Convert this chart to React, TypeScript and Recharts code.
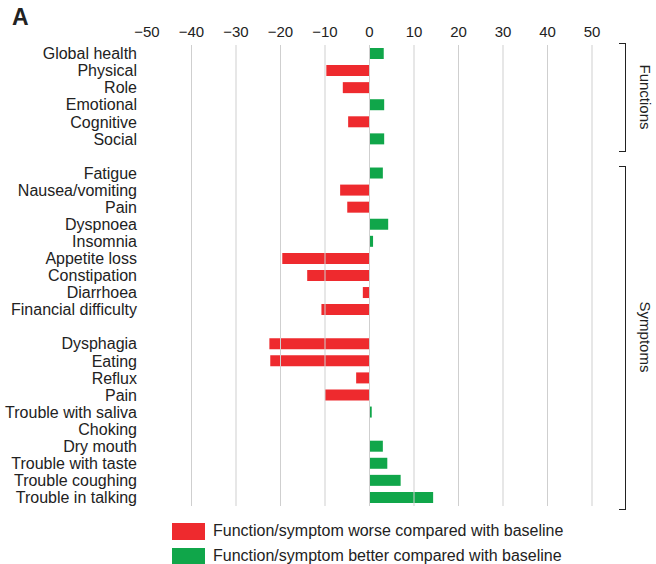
import { BarChart, Bar, XAxis, YAxis, Cell, ReferenceLine } from "recharts";

const labels = [
  "Global health", "Physical", "Role", "Emotional", "Cognitive", "Social", "",
  "Fatigue", "Nausea/vomiting", "Pain", "Dyspnoea", "Insomnia", "Appetite loss",
  "Constipation", "Diarrhoea", "Financial difficulty", "",
  "Dysphagia", "Eating", "Reflux", "Pain", "Trouble with saliva", "Choking",
  "Dry mouth", "Trouble with taste", "Trouble coughing", "Trouble in talking",
];
const values = [
  3.2, -9.7, -6, 3.3, -4.8, 3.3, 0,
  3, -6.6, -5, 4.2, 0.8, -19.6, -14, -1.5, -10.8, 0,
  -22.5, -22.3, -3, -10, 0.5, -0.1, 3, 4, 7, 14.3,
];
const ticks = [-50, -40, -30, -20, -10, 0, 10, 20, 30, 40, 50];
const gridLines = [-40, -30, -20, -10, 0, 10, 20, 30, 40, 50];

const rows = labels.map((label, i) => ({ id: `r${i}`, label, value: values[i] }));
const RED = "#ee2a2e";
const GREEN = "#10a64a";
const font = "'Liberation Sans', Arial, sans-serif";

function Bracket({ top, bottom, text }: { top: number; bottom: number; text: string }) {
  return (
    <>
      <div style={{ position: "absolute", left: 619, top, width: 6, height: bottom - top,
        borderTop: "1px solid #222", borderBottom: "1px solid #222", borderRight: "1px solid #222" }} />
      <div style={{ position: "absolute", left: 645, top: (top + bottom) / 2, fontSize: 15,
        transform: "translate(-50%, -50%) rotate(90deg)", whiteSpace: "nowrap", color: "#222" }}>{text}</div>
    </>
  );
}

export default function App() {
  return (
    <div style={{ position: "absolute", left: 0, top: 0, width: 656, height: 564, overflow: "hidden", fontFamily: font, background: "#fff", color: "#222" }}>
      <div style={{ position: "absolute", left: 12, top: 4, fontSize: 23, fontWeight: "bold" }}>A</div>
      <BarChart width={656} height={512} data={rows} layout="vertical"
        margin={{ top: 25, right: 64, left: 7, bottom: 6 }} barCategoryGap={3}>
        {gridLines.map((g) => (
          <ReferenceLine key={g} x={g} stroke="#cfcfcf" strokeWidth={1} />
        ))}
        <XAxis type="number" orientation="top" domain={[-50, 50]} ticks={ticks} height={20}
          axisLine={false} tickLine={false} tickMargin={2} interval={0}
          tick={{ fontSize: 15, fill: "#222", fontFamily: font }}
          tickFormatter={(v: number) => (v < 0 ? `\u2212${-v}` : `${v}`)} />
        <YAxis type="category" dataKey="id" width={140} axisLine={false} tickLine={false}
          tickMargin={4} interval={0} tick={{ fontSize: 16, fill: "#222", fontFamily: font }}
          tickFormatter={(id: string) => rows.find((r) => r.id === id)?.label ?? ""} />
        <Bar dataKey="value" isAnimationActive={false} barSize={11}>
          {rows.map((r) => (
            <Cell key={r.id} fill={r.value < 0 ? RED : GREEN} />
          ))}
        </Bar>
      </BarChart>
      <Bracket top={43} bottom={150} text="Functions" />
      <Bracket top={166} bottom={508} text="Symptoms" />
      <div style={{ position: "absolute", left: 172, top: 523, width: 33, height: 17, background: RED }} />
      <div style={{ position: "absolute", left: 213, top: 522, fontSize: 16 }}>Function/symptom worse compared with baseline</div>
      <div style={{ position: "absolute", left: 172, top: 548, width: 33, height: 17, background: GREEN }} />
      <div style={{ position: "absolute", left: 213, top: 547, fontSize: 16 }}>Function/symptom better compared with baseline</div>
    </div>
  );
}
